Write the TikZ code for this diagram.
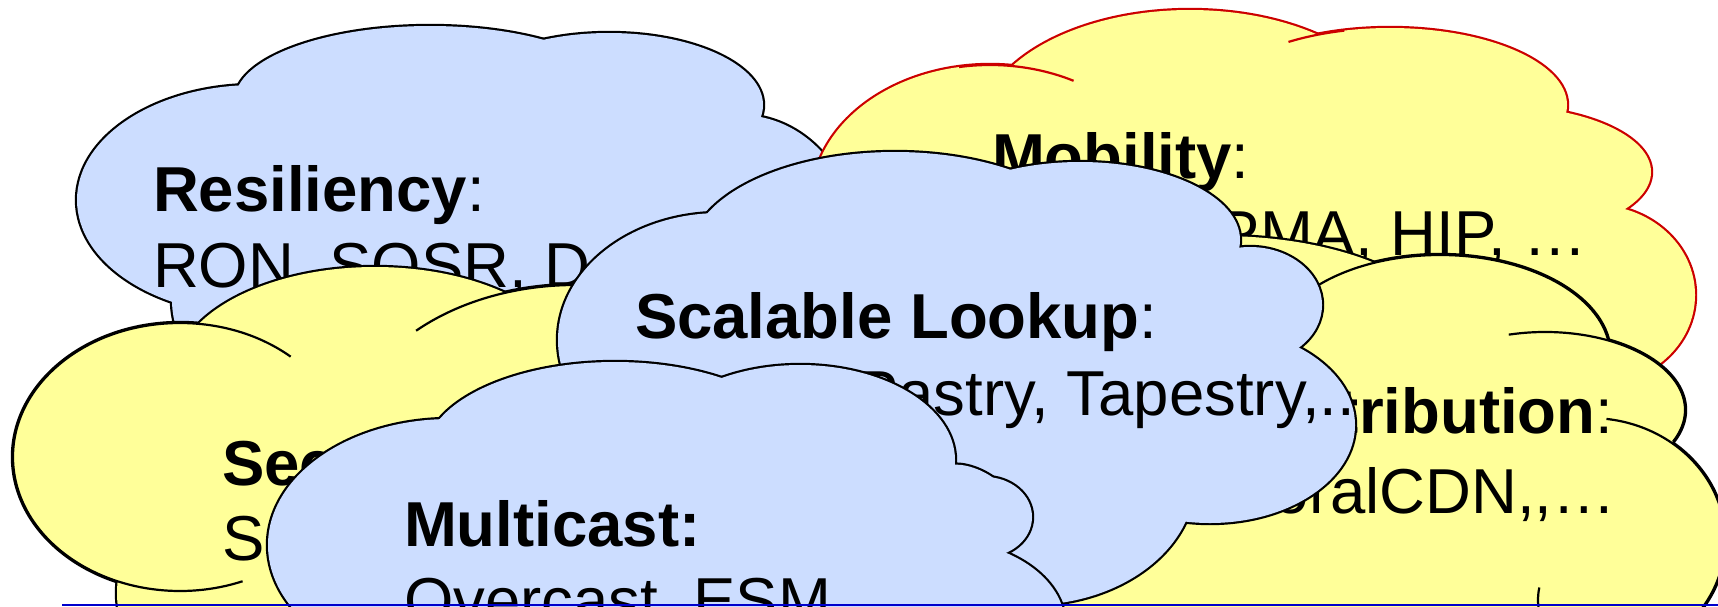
\documentclass[tikz,border=0pt]{standalone}
\usepackage{fontspec}
\setmainfont{Liberation Sans}

\definecolor{cloudblue}{RGB}{204,221,255}
\definecolor{cloudyellow}{RGB}{255,255,153}
\definecolor{cloudred}{RGB}{204,0,0}
\definecolor{ruleblue}{RGB}{0,0,204}

% A cloud is a union of elliptic lobes: a doubled stroke round every lobe,
% then the fill on top, so only the outer half of the stroke survives.
% #1 lobes cx/cy/rx/ry/tilt, #2 inner polygon, #3 fill, #4 outline colour
\newcommand{\drawcloud}[4]{%
  \foreach \cx/\cy/\rx/\ry/\tl in {#1}
    \draw[#4, line width=4.4pt, rotate around={\tl:(\cx,\cy)}]
      (\cx,\cy) ellipse [x radius=\rx pt, y radius=\ry pt];
  \fill[#3] #2 -- cycle;
  \foreach \cx/\cy/\rx/\ry/\tl in {#1}
    \fill[#3, rotate around={\tl:(\cx,\cy)}]
      (\cx,\cy) ellipse [x radius=\rx pt, y radius=\ry pt];
}
% Visible fold of one lobe: cx, cy, rx, ry, start angle, end angle, colour
\newcommand{\lobefold}[7]{%
  \draw[#7, line width=2.2pt]
    ([shift={(#5:#3pt and #4pt)}]#1,#2)
    arc [start angle=#5, end angle=#6, x radius=#3pt, y radius=#4pt];
}

\tikzset{
  label/.style={inner sep=0pt, outer sep=0pt, font=\fontsize{63.5}{76}\selectfont, text=black},
}

\begin{document}
\begin{tikzpicture}[x=1pt, y=-1pt]
\useasboundingbox (0,0) rectangle (1718,606);
\clip (0,0) rectangle (1718,606);

% Resiliency
\drawcloud{255/200/178/115/0, 430/100/195/74/0, 609/105/154/72/0, 740/240/115/125/0,
           330/300/158/120/0, 550/300/180/100/0}
  {(255,200) -- (430,100) -- (609,105) -- (740,240) -- (550,300) -- (330,300)}
  {cloudblue}{black}
\node[label, anchor=base west] (resT) at (153,211) {\textbf{Resiliency}:};
\node[label, anchor=base west] (resL) at (153,287) {RON, SOSR, D};

% Mobility
\drawcloud{990/200/178/135/0, 1190/130/210/120/0, 1390/105/177/77/0, 1500/172/151/66/0,
           1595/295/100/90/0}
  {(990,200) -- (1190,130) -- (1390,105) -- (1500,172) -- (1595,295) -- (1450,320) -- (1100,300) -- (900,260)}
  {cloudyellow}{cloudred}
\lobefold{990}{200}{178}{135}{62}{100}{cloudred}
\lobefold{1390}{105}{177}{77}{125}{105}{cloudred}
\node[label, anchor=base west] (mobT) at (992,178) {\textbf{Mobility}:};
\node[label, anchor=base east] (mobL) at (1587,255) {PMA, HIP, …};

% Distribution
\drawcloud{1220/340/230/104/0, 1440/355/170/100/0, 1545/410/140/78/0, 1590/540/135/122/0,
           1300/520/300/140/0}
  {(1220,340) -- (1440,355) -- (1545,410) -- (1590,540) -- (1300,520)}
  {cloudyellow}{black}
\lobefold{1440}{355}{170}{100}{140}{9}{black}
\lobefold{1545}{410}{140}{78}{105}{-24}{black}
\lobefold{1590}{540}{135}{122}{83}{-40}{black}
\lobefold{1640}{600}{102}{80}{171}{200}{black}
\node[label, anchor=base east] (cdT) at (1613,433) {\textbf{Distribution}:};
\node[label, anchor=base east] (cdL) at (1616,513) {CoralCDN{,}{,}…};

% Security
\drawcloud{180/457/167/134/0, 375/375/200/108/0, 575/450/230/165/0, 260/593/143/120/0}
  {(180,457) -- (375,375) -- (575,450) -- (260,593)}
  {cloudyellow}{black}
\lobefold{180}{457}{167}{134}{48.5}{292}{black}
\lobefold{575}{450}{230}{165}{133.7}{75}{black}
\node[label, anchor=base west] (secT) at (222,485) {\textbf{Security}:};
\node[label, anchor=base west] (secL) at (222,560) {S};

% Scalable Lookup
\drawcloud{720/340/162/127/0, 895/255/205/103/0, 1080/240/160/78/0, 1250/305/72/58/0,
           1210/425/145/98/0, 1030/480/165/125/0}
  {(720,340) -- (895,255) -- (1080,240) -- (1250,305) -- (1210,425) -- (1030,480) -- (800,440)}
  {cloudblue}{black}
\node[label, anchor=base west] (lookT) at (635,338) {\textbf{Scalable Lookup}:};
\node[label, anchor=base east] (lookL) at (1355,415) {Pastry, Tapestry,..};

% Multicast
\drawcloud{450/545/182/126/0, 615/455/190/93/0, 800/460/155/95/0, 974/483/33/14/-23.5,
           985/517/47/40/0, 940/625/125/85/0}
  {(450,545) -- (615,455) -- (800,460) -- (974,483) -- (985,517) -- (940,625) -- (450,650)}
  {cloudblue}{black}
\node[label, anchor=base west] (mcT) at (404,546) {\textbf{Multicast:}};
\node[label, anchor=base west] (mcL) at (404,622) {Overcast, ESM};

% rule along the foot
\coordinate (ruleL) at (62,604.5);
\coordinate (ruleR) at (1718,604.5);
\draw[ruleblue, line width=2pt] (ruleL) -- (ruleR);
\end{tikzpicture}
\end{document}
